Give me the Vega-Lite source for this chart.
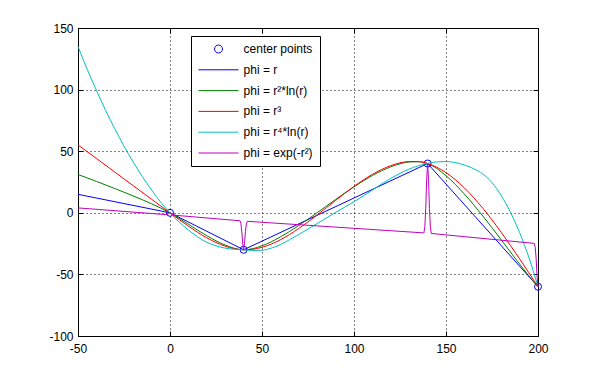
{
  "$schema": "https://vega.github.io/schema/vega-lite/v6.json",
  "width": 460,
  "height": 308,
  "autosize": {"type": "none"},
  "padding": {"left": 78, "top": 28, "right": 56, "bottom": 41},
  "background": "white",
  "config": {"view": {"stroke": "black", "strokeWidth": 1}, "font": "Liberation Sans"},
  "datasets": {
    "centers": [{"x": 0, "y": 0}, {"x": 40, "y": -30}, {"x": 140, "y": 40}, {"x": 200, "y": -60}],
    "blue": [{"x": -50, "y": 15}, {"x": 0, "y": 0}, {"x": 40, "y": -30}, {"x": 140, "y": 40}, {"x": 200, "y": -60}],
    "green": [
      {"x": -50, "y": 31.1}, {"x": -40, "y": 25.5}, {"x": -30, "y": 19.7}, {"x": -20, "y": 13.7}, {"x": -10, "y": 7.3},
      {"x": 0, "y": 0}, {"x": 5, "y": -4.5}, {"x": 10, "y": -9.3}, {"x": 20, "y": -18.6}, {"x": 30, "y": -26.2},
      {"x": 40, "y": -30}, {"x": 45, "y": -29.1}, {"x": 50, "y": -26.8}, {"x": 60, "y": -19.6}, {"x": 70, "y": -10.3},
      {"x": 80, "y": 0.1}, {"x": 90, "y": 10.8}, {"x": 100, "y": 21.1}, {"x": 110, "y": 30.3}, {"x": 120, "y": 37.3},
      {"x": 125, "y": 39.8}, {"x": 130, "y": 41.3}, {"x": 135, "y": 41.5}, {"x": 140, "y": 40}, {"x": 150, "y": 30.1},
      {"x": 160, "y": 15.2}, {"x": 170, "y": -2.6}, {"x": 180, "y": -21.9}, {"x": 185, "y": -31.8}, {"x": 190, "y": -41.6},
      {"x": 195, "y": -51.1}, {"x": 200, "y": -60}
    ],
    "red": [
      {"x": -50, "y": 55.1}, {"x": -40, "y": 44.1}, {"x": -30, "y": 33.1}, {"x": -20, "y": 22.0}, {"x": -10, "y": 11.0},
      {"x": 0, "y": 0}, {"x": 5, "y": -5.5}, {"x": 10, "y": -10.8}, {"x": 20, "y": -20.3}, {"x": 30, "y": -27.1},
      {"x": 40, "y": -30}, {"x": 45, "y": -29.6}, {"x": 50, "y": -28.0}, {"x": 60, "y": -21.9}, {"x": 70, "y": -12.7},
      {"x": 80, "y": -1.7}, {"x": 90, "y": 10.0}, {"x": 100, "y": 21.4}, {"x": 110, "y": 31.2}, {"x": 120, "y": 38.3},
      {"x": 125, "y": 40.5}, {"x": 130, "y": 41.6}, {"x": 135, "y": 41.5}, {"x": 140, "y": 40}, {"x": 150, "y": 32.6},
      {"x": 160, "y": 20.2}, {"x": 170, "y": 3.7}, {"x": 180, "y": -15.8}, {"x": 185, "y": -26.4}, {"x": 190, "y": -37.4},
      {"x": 195, "y": -48.6}, {"x": 200, "y": -60}
    ],
    "cyan": [
      {"x": -50, "y": 135}, {"x": -45, "y": 116.5}, {"x": -40, "y": 99.5}, {"x": -35, "y": 83.2}, {"x": -30, "y": 68.2},
      {"x": -25, "y": 54.1}, {"x": -20, "y": 41.2}, {"x": -15, "y": 29.3}, {"x": -10, "y": 18.5}, {"x": -5, "y": 8.5},
      {"x": 0, "y": 0}, {"x": 5, "y": -7.5}, {"x": 10, "y": -14}, {"x": 15, "y": -19.5}, {"x": 20, "y": -24},
      {"x": 25, "y": -26.8}, {"x": 30, "y": -28.7}, {"x": 35, "y": -29.6}, {"x": 40, "y": -30}, {"x": 45, "y": -30.6},
      {"x": 50, "y": -30.4}, {"x": 55, "y": -28.7}, {"x": 60, "y": -25.8}, {"x": 65, "y": -21.8}, {"x": 70, "y": -17.6},
      {"x": 75, "y": -13.2}, {"x": 80, "y": -8.7}, {"x": 85, "y": -4.2}, {"x": 90, "y": 0.3}, {"x": 95, "y": 4.6},
      {"x": 100, "y": 9}, {"x": 105, "y": 13.6}, {"x": 110, "y": 18.5}, {"x": 115, "y": 23.4}, {"x": 120, "y": 28},
      {"x": 125, "y": 32}, {"x": 130, "y": 35.5}, {"x": 135, "y": 38.2}, {"x": 140, "y": 40}, {"x": 145, "y": 41.3},
      {"x": 150, "y": 41.6}, {"x": 155, "y": 40.8}, {"x": 160, "y": 38.8}, {"x": 165, "y": 35.8}, {"x": 170, "y": 31.5},
      {"x": 175, "y": 24.5}, {"x": 180, "y": 14}, {"x": 185, "y": 0.5}, {"x": 190, "y": -16}, {"x": 195, "y": -36},
      {"x": 200, "y": -60}
    ],
    "magenta": [
      {"x": -50, "y": 3.97}, {"x": -2, "y": -1.48}, {"x": -1, "y": -0.97}, {"x": -0.5, "y": -0.32}, {"x": 0, "y": 0},
      {"x": 0.5, "y": -0.44}, {"x": 1, "y": -1.19}, {"x": 2, "y": -1.91},
      {"x": 38, "y": -6.46}, {"x": 38.5, "y": -8.58}, {"x": 39, "y": -14.87}, {"x": 39.5, "y": -24.69}, {"x": 40, "y": -30},
      {"x": 40.5, "y": -24.8}, {"x": 41, "y": -15.1}, {"x": 41.5, "y": -8.92}, {"x": 42, "y": -6.91},
      {"x": 138, "y": -16.32}, {"x": 138.5, "y": -11.36}, {"x": 139, "y": 3.7}, {"x": 139.5, "y": 27.32}, {"x": 140, "y": 40},
      {"x": 140.5, "y": 27.2}, {"x": 141, "y": 3.48}, {"x": 141.5, "y": -11.7}, {"x": 142, "y": -16.77},
      {"x": 198, "y": -24.83}, {"x": 198.5, "y": -27.99}, {"x": 199, "y": -37.39}, {"x": 199.5, "y": -52.07}, {"x": 200, "y": -60}
    ]
  },
  "layer": [
    {
      "data": {"name": "centers"},
      "mark": {"type": "point", "filled": false, "size": 50, "strokeWidth": 1, "opacity": 1},
      "encoding": {
        "x": {"field": "x", "type": "quantitative", "scale": {"domain": [-50, 200], "nice": false, "zero": false},
          "axis": {"orient": "bottom", "values": [-50, 0, 50, 100, 150, 200], "grid": true, "gridColor": "black", "gridDash": [1, 3], "gridOpacity": 1, "gridWidth": 1,
            "domain": true, "domainColor": "black", "domainWidth": 1, "ticks": true, "tickColor": "black", "tickSize": -5, "tickWidth": 1,
            "labelPadding": 12, "labelFont": "Liberation Sans", "labelFontSize": 12, "labelColor": "black", "labelFlush": false, "labelOverlap": false,
            "labelExpr": "'' + datum.value", "title": null}},
        "y": {"field": "y", "type": "quantitative", "scale": {"domain": [-100, 150], "nice": false, "zero": false},
          "axis": {"orient": "left", "values": [-100, -50, 0, 50, 100, 150], "grid": true, "gridColor": "black", "gridDash": [1, 3], "gridOpacity": 1, "gridWidth": 1,
            "domain": true, "domainColor": "black", "domainWidth": 1, "ticks": true, "tickColor": "black", "tickSize": -5, "tickWidth": 1,
            "labelPadding": 10, "labelFont": "Liberation Sans", "labelFontSize": 12, "labelColor": "black", "labelFlush": false, "labelOverlap": false,
            "labelExpr": "'' + datum.value", "title": null}},
        "color": {"datum": "center points", "type": "nominal",
          "scale": {"domain": ["center points", "phi = r", "phi = r²*ln(r)", "phi = r³", "phi = r⁴*ln(r)", "phi = exp(-r²)"],
            "range": ["#0000ff", "#0000ff", "#008000", "#ff0000", "#00bfbf", "#bf00bf"]},
          "legend": {"title": null, "orient": "none", "legendX": 113, "legendY": 8, "padding": 7,
            "strokeColor": "black", "fillColor": "white",
            "symbolType": {"expr": "datum.index === 0 ? 'M0.2,0A0.2,0.2,0,1,1,-0.2,0A0.2,0.2,0,1,1,0.2,0Z' : 'stroke'"},
            "symbolSize": 1600, "symbolStrokeWidth": 1,
            "symbolOffset": 0, "labelOffset": 4.6,
            "labelFont": "Liberation Sans", "labelFontSize": 12, "labelColor": "black", "rowPadding": 8.8, "clipHeight": 12, "gridAlign": "all", "labelLimit": 300,
            "encode": {"symbols": {
              "fill": {"value": "transparent"},
              "stroke": {"condition": [
                {"test": "datum.index === 2", "value": "#008000"},
                {"test": "datum.index === 3", "value": "#ff0000"},
                {"test": "datum.index === 4", "value": "#00bfbf"},
                {"test": "datum.index === 5", "value": "#bf00bf"}], "value": "#0000ff"},
              "strokeWidth": {"value": 1}}}}}
      }
    },
    {
      "data": {"name": "blue"},
      "mark": {"type": "line", "strokeWidth": 1, "interpolate": "linear"},
      "encoding": {
        "x": {"field": "x", "type": "quantitative", "scale": {"domain": [-50, 200], "nice": false, "zero": false},
          "axis": {"orient": "top", "values": [-50, 0, 50, 100, 150, 200], "grid": false, "labels": false, "domain": false, "ticks": true, "tickColor": "black", "tickSize": -5, "title": null}},
        "y": {"field": "y", "type": "quantitative", "scale": {"domain": [-100, 150], "nice": false, "zero": false},
          "axis": {"orient": "right", "values": [-100, -50, 0, 50, 100, 150], "grid": false, "labels": false, "domain": false, "ticks": true, "tickColor": "black", "tickSize": -5, "title": null}},
        "color": {"datum": "phi = r", "type": "nominal"}
      }
    },
    {
      "data": {"name": "green"},
      "mark": {"type": "line", "strokeWidth": 1, "interpolate": "monotone"},
      "encoding": {
        "x": {"field": "x", "type": "quantitative", "axis": null},
        "y": {"field": "y", "type": "quantitative", "axis": null},
        "color": {"datum": "phi = r²*ln(r)", "type": "nominal"}
      }
    },
    {
      "data": {"name": "red"},
      "mark": {"type": "line", "strokeWidth": 1, "interpolate": "monotone"},
      "encoding": {
        "x": {"field": "x", "type": "quantitative", "axis": null},
        "y": {"field": "y", "type": "quantitative", "axis": null},
        "color": {"datum": "phi = r³", "type": "nominal"}
      }
    },
    {
      "data": {"name": "cyan"},
      "mark": {"type": "line", "strokeWidth": 1, "interpolate": "monotone"},
      "encoding": {
        "x": {"field": "x", "type": "quantitative", "axis": null},
        "y": {"field": "y", "type": "quantitative", "axis": null},
        "color": {"datum": "phi = r⁴*ln(r)", "type": "nominal"}
      }
    },
    {
      "data": {"name": "magenta"},
      "mark": {"type": "line", "strokeWidth": 1, "interpolate": "linear"},
      "encoding": {
        "x": {"field": "x", "type": "quantitative", "axis": null},
        "y": {"field": "y", "type": "quantitative", "axis": null},
        "color": {"datum": "phi = exp(-r²)", "type": "nominal"}
      }
    }
  ],
  "resolve": {"axis": {"x": "independent", "y": "independent"}}
}
